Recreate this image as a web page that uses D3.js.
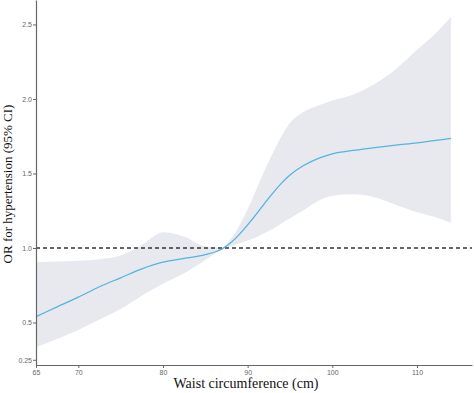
<!DOCTYPE html>
<html>
<head>
<meta charset="utf-8">
<script src="https://cdn.jsdelivr.net/npm/d3@7"></script>
<style>
  body { margin: 0; background: #fff; }
  svg { display: block; }
</style>
</head>
<body>
<div id="chart"></div>
<script>
const W = 474, H = 393;
const MARGIN = { TOP: 0, BOTTOM: 28, LEFT: 36, RIGHT: 2 };

// waist circumference (cm) grid
const waist = [65, 67.5, 70, 72.5, 75, 77.5, 80, 82.5, 85, 87, 88, 89, 90, 91, 92, 93, 94, 95, 96.5, 98.5, 100, 102.5, 105, 107.5, 110, 112, 114];
const orEstimate = [0.54, 0.605, 0.67, 0.74, 0.80, 0.86, 0.905, 0.93, 0.955, 0.995, 1.035, 1.09, 1.155, 1.225, 1.30, 1.37, 1.435, 1.49, 1.55, 1.605, 1.632, 1.655, 1.673, 1.69, 1.705, 1.72, 1.735];
const ciLower = [0.335, 0.39, 0.45, 0.52, 0.59, 0.68, 0.76, 0.83, 0.92, 0.99, 1.01, 1.03, 1.05, 1.07, 1.10, 1.13, 1.165, 1.20, 1.25, 1.32, 1.35, 1.36, 1.34, 1.29, 1.24, 1.21, 1.17];
const ciUpper = [0.905, 0.91, 0.915, 0.925, 0.95, 1.02, 1.105, 1.075, 1.01, 1.0, 1.06, 1.15, 1.26, 1.39, 1.52, 1.64, 1.75, 1.84, 1.91, 1.96, 1.99, 2.03, 2.10, 2.20, 2.33, 2.43, 2.55];

const xTicks = [65, 70, 80, 90, 100, 110];
const yTicks = [0.25, 0.5, 1.0, 1.5, 2.0, 2.5];
const refLine = 1.0;

const data = waist.map((w, i) => ({ w, est: orEstimate[i], lo: ciLower[i], hi: ciUpper[i] }));

const svg = d3.select('#chart').append('svg')
  .attr('width', W)
  .attr('height', H);

const x = d3.scaleLinear()
  .domain([65, 116.5])
  .range([MARGIN.LEFT, W - MARGIN.RIGHT]);

const y = d3.scaleLinear()
  .domain([0.215, 2.664])
  .range([H - MARGIN.BOTTOM, MARGIN.TOP]);

// confidence band
const band = d3.area()
  .x(d => x(d.w))
  .y0(d => y(d.lo))
  .y1(d => y(d.hi))
  .curve(d3.curveMonotoneX);

svg.append('path')
  .datum(data)
  .attr('d', band)
  .attr('fill', '#e7e9ee');

// reference line at OR = 1
svg.append('line')
  .attr('x1', x(65))
  .attr('x2', W - MARGIN.RIGHT)
  .attr('y1', y(refLine))
  .attr('y2', y(refLine))
  .attr('stroke', '#333')
  .attr('stroke-width', 1.3)
  .attr('stroke-dasharray', '4,3');

// spline estimate
const line = d3.line()
  .x(d => x(d.w))
  .y(d => y(d.est))
  .curve(d3.curveMonotoneX);

svg.append('path')
  .datum(data)
  .attr('d', line)
  .attr('fill', 'none')
  .attr('stroke', '#56b4de')
  .attr('stroke-width', 1.3);

// axes
const xAxisG = svg.append('g')
  .attr('transform', `translate(0, ${H - MARGIN.BOTTOM})`)
  .call(d3.axisBottom(x).tickValues(xTicks).tickSize(3).tickSizeOuter(0).tickFormat(d3.format('d')));

const yAxisG = svg.append('g')
  .attr('transform', `translate(${MARGIN.LEFT}, 0)`)
  .call(d3.axisLeft(y).tickValues(yTicks).tickSize(3).tickSizeOuter(0).tickFormat(d => d === 0.25 ? '0.25' : d3.format('.1f')(d)));

[xAxisG, yAxisG].forEach(g => {
  g.select('.domain').attr('stroke', '#666').attr('stroke-width', 1.2);
  g.selectAll('.tick line').attr('stroke', '#666');
  g.selectAll('.tick text')
    .attr('fill', '#666')
    .style('font-family', '"Liberation Sans", Arial, sans-serif')
    .style('font-size', '7px');
});
yAxisG.selectAll('.tick text').attr('x', -4);
xAxisG.selectAll('.tick text').attr('y', 5);

// titles
svg.append('text')
  .attr('x', 246)
  .attr('y', 388)
  .attr('text-anchor', 'middle')
  .style('font-family', '"Liberation Serif", "Times New Roman", serif')
  .style('font-size', '14px')
  .attr('fill', '#111')
  .text('Waist circumference (cm)');

svg.append('text')
  .attr('transform', 'translate(12, 184) rotate(-90)')
  .attr('text-anchor', 'middle')
  .style('font-family', '"Liberation Serif", "Times New Roman", serif')
  .style('font-size', '13px')
  .attr('fill', '#111')
  .text('OR for hypertension (95% CI)');
</script>
</body>
</html>
